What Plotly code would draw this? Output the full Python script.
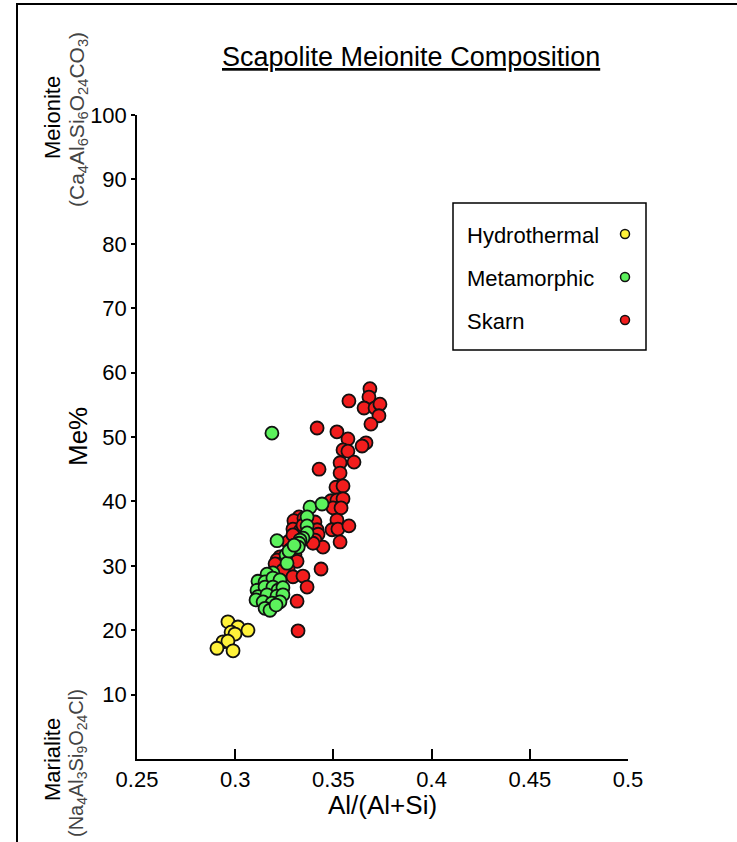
import plotly.graph_objects as go

# ---- data ----
hydro_x = [0.2963, 0.3014, 0.3065, 0.2979, 0.2999, 0.2938, 0.2963, 0.2907, 0.2989]
hydro_y = [21.3, 20.5, 20.0, 19.7, 19.4, 18.2, 18.3, 17.2, 16.8]

skarn_x = [0.3686, 0.3681, 0.3579, 0.3656, 0.3712, 0.3737, 0.3732, 0.3691, 0.3417, 0.3518,
           0.3574, 0.3666, 0.3646, 0.3549, 0.3574, 0.3605, 0.3534, 0.3427, 0.3534, 0.3513,
           0.3549, 0.3488, 0.3518, 0.3549, 0.3498, 0.3539, 0.3518, 0.3493, 0.3523, 0.3579,
           0.3534, 0.3325, 0.3299, 0.3350, 0.3406, 0.3294, 0.3330, 0.3417, 0.3422, 0.3279,
           0.3406, 0.3447, 0.3269, 0.3396, 0.3304, 0.3315, 0.3228, 0.3213, 0.3243, 0.3203,
           0.3269, 0.3243, 0.3437, 0.3294, 0.3345, 0.3366, 0.3315, 0.3320, 0.3294, 0.3345]
skarn_y = [57.5, 56.2, 55.6, 54.5, 54.5, 55.1, 53.3, 52.0, 51.4, 50.8,
           49.7, 49.1, 48.6, 48.0, 47.8, 46.1, 46.0, 45.0, 44.4, 42.2,
           42.4, 40.1, 40.2, 40.4, 39.0, 39.0, 37.1, 35.6, 35.7, 36.2,
           33.7, 37.6, 37.0, 37.4, 36.8, 35.7, 35.4, 35.6, 34.9, 33.9,
           34.0, 32.9, 33.7, 33.5, 31.7, 30.7, 31.4, 30.9, 30.4, 30.3,
           29.5, 29.3, 29.5, 28.3, 28.4, 26.7, 24.5, 19.9, 34.8, 36.3]

meta_x = [0.3187, 0.3381, 0.3442, 0.3366, 0.3366, 0.3366, 0.3345, 0.3330, 0.3325, 0.3213,
          0.3279, 0.3259, 0.3264, 0.3192, 0.3162, 0.3116, 0.3152, 0.3192, 0.3228, 0.3111,
          0.3152, 0.3192, 0.3218, 0.3243, 0.3116, 0.3162, 0.3213, 0.3243, 0.3106, 0.3142,
          0.3187, 0.3228, 0.3152, 0.3177, 0.3208, 0.3321, 0.3274, 0.3300]
meta_y = [50.6, 39.1, 39.6, 37.6, 36.2, 35.1, 34.3, 34.0, 33.5, 33.9,
          32.5, 31.7, 30.4, 28.9, 28.7, 27.6, 27.5, 28.1, 27.8, 26.2,
          26.7, 26.7, 26.2, 26.6, 25.2, 25.5, 25.3, 25.5, 24.7, 24.4,
          24.2, 24.4, 23.4, 23.1, 23.9, 32.9, 32.3, 33.2]

series_names = ["Hydrothermal", "Metamorphic", "Skarn"]
series_colors = ["#FFF23A", "#5CF25C", "#F21D1D"]

x_ticks = [0.25, 0.3, 0.35, 0.4, 0.45, 0.5]
x_ticklabels = ["0.25", "0.3", "0.35", "0.4", "0.45", "0.5"]
y_ticks = [10, 20, 30, 40, 50, 60, 70, 80, 90, 100]

FONT = "Liberation Sans, Arial, sans-serif"

fig = go.Figure()
marker_line = dict(color="#111111", width=1.8)
for xs, ys, name, col in [(skarn_x, skarn_y, "Skarn", series_colors[2]),
                          (meta_x, meta_y, "Metamorphic", series_colors[1]),
                          (hydro_x, hydro_y, "Hydrothermal", series_colors[0])]:
    fig.add_trace(go.Scatter(x=xs, y=ys, mode="markers", name=name,
                             marker=dict(size=13, color=col, line=marker_line),
                             showlegend=False))

L, R, T, B = 137, 109, 115, 83
W, H = 737, 842
pw, ph = W - L - R, H - T - B

def px(x):
    return (x - L) / pw

def py(y):
    return (H - B - y) / ph

annotations = []
shapes = []

def ann(text, x, y, size, color="black", angle=0, xanchor="center"):
    annotations.append(dict(text=text, x=px(x), y=py(y), xref="paper", yref="paper",
                            xanchor=xanchor, yanchor="middle", showarrow=False,
                            textangle=angle,
                            font=dict(family=FONT, size=size, color=color)))

ann("<u>Scapolite Meionite Composition</u>", 411, 57, 27)
ann("Me%", 78, 437, 26, angle=-90)
ann("Al/(Al+Si)", 382, 805, 26)
ann("Meionite", 52, 118, 22, angle=-90)
ann("(Ca<sub>4</sub>Al<sub>6</sub>Si<sub>6</sub>O<sub>24</sub>CO<sub>3</sub>)", 78, 120, 21,
    color="#444444", angle=-90)
ann("Marialite", 52, 760, 22, angle=-90)
ann("(Na<sub>4</sub>Al<sub>3</sub>Si<sub>9</sub>O<sub>24</sub>Cl)", 78, 763, 20,
    color="#444444", angle=-90)

# legend box
shapes.append(dict(type="rect", xref="paper", yref="paper",
                   x0=px(453), x1=px(646), y0=py(350), y1=py(203),
                   line=dict(color="black", width=1.5), fillcolor="white", layer="below"))
for i, (name, col) in enumerate(zip(series_names, series_colors)):
    yy = 235 + i * 43
    ann(name, 465, yy, 22, xanchor="left")
    shapes.append(dict(type="circle", xref="paper", yref="paper",
                       xsizemode="pixel", ysizemode="pixel",
                       xanchor=px(625), yanchor=py(yy - 1),
                       x0=-4.5, x1=4.5, y0=-4.5, y1=4.5,
                       fillcolor=col, line=dict(color="#111111", width=1.5)))

# outer frame
shapes.append(dict(type="rect", xref="paper", yref="paper",
                   x0=px(17), x1=px(760), y0=py(870), y1=py(4),
                   line=dict(color="black", width=2), layer="below"))

fig.update_layout(
    width=W, height=H,
    margin=dict(l=L, r=R, t=T, b=B),
    paper_bgcolor="white", plot_bgcolor="white",
    annotations=annotations, shapes=shapes,
    showlegend=False,
    font=dict(family=FONT, color="black"),
)
fig.update_xaxes(range=[0.25, 0.5], tickvals=x_ticks, ticktext=x_ticklabels,
                 showgrid=False, zeroline=False, showline=True, linecolor="black", linewidth=1.5,
                 ticks="inside", ticklen=10, tickwidth=1.5, tickcolor="black",
                 tickfont=dict(family=FONT, size=22, color="black"), mirror=False)
fig.update_yaxes(range=[0, 100], tickvals=y_ticks,
                 showgrid=False, zeroline=False, showline=True, linecolor="black", linewidth=1.5,
                 ticks="outside", ticklen=4, tickwidth=1.5, tickcolor="black",
                 tickfont=dict(family=FONT, size=22, color="black"), mirror=False)

fig.write_html("out.html", config={"displayModeBar": False})

# remove the browser's default body margin so the figure sits at the page origin
with open("out.html", "r", encoding="utf-8") as f:
    html = f.read()
html = html.replace("<body>", '<body style="margin:0;padding:0;overflow:hidden">', 1)
with open("out.html", "w", encoding="utf-8") as f:
    f.write(html)
